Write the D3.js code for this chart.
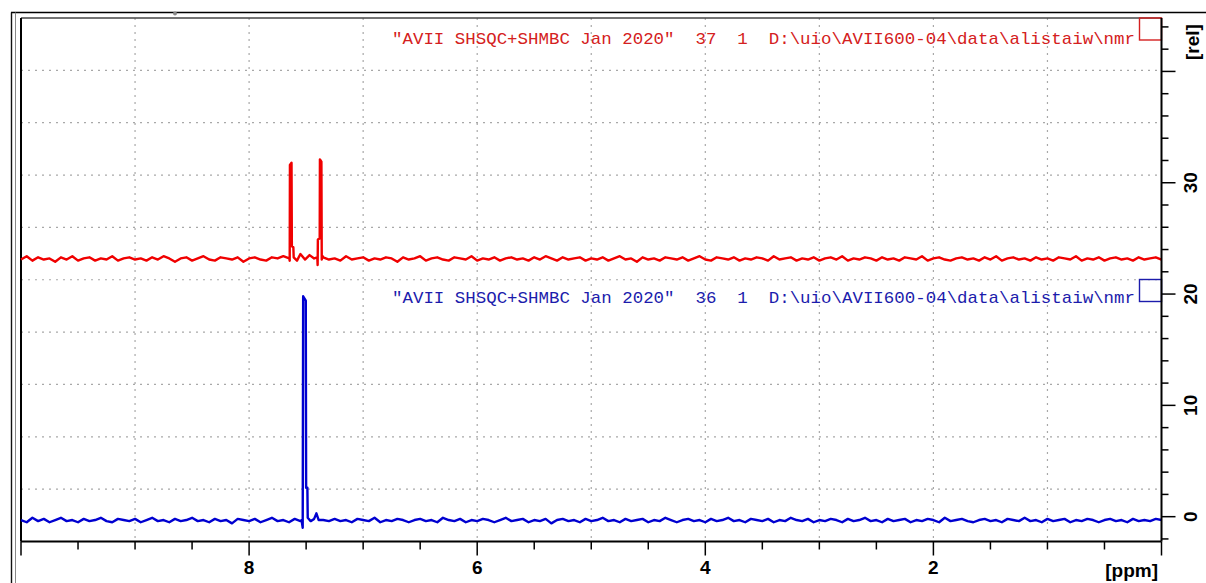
<!DOCTYPE html>
<html>
<head>
<meta charset="utf-8">
<script src="https://cdn.jsdelivr.net/npm/d3@7"></script>
<style>
  body { margin: 0; background: #fff; }
  svg { display: block; }
  .legende { white-space: pre; }
</style>
</head>
<body>
<div id="spectre"></div>
<script>
//------Chart data
const ppmStart = 10;
const ppmStep = 0.05;

// baseline intensities, one every 0.05 ppm from 10 to 0
const redBaseline = [
  23.1, 23.4, 23.0, 23.3, 23.1, 23.2, 22.9, 23.3, 23.1, 23.4,
  23.0, 23.2, 23.3, 23.0, 23.2, 23.1, 23.4, 23.0, 23.2, 23.3,
  23.1, 23.2, 23.0, 23.3, 23.1, 23.4, 23.2, 22.9, 23.2, 23.3,
  23.0, 23.2, 23.4, 23.1, 23.0, 23.3, 23.2, 23.1, 23.3, 22.9,
  23.2, 23.3, 23.1, 23.0, 23.3, 23.2, 23.4, 23.0, 23.2, 23.1,
  23.3, 23.0, 23.2, 23.3, 23.1, 23.2, 23.0, 23.4, 23.1, 23.2,
  23.3, 23.0, 23.2, 23.1, 23.3, 23.2, 22.9, 23.3, 23.1, 23.2,
  23.4, 23.0, 23.2, 23.3, 23.1, 23.0, 23.3, 23.2, 23.1, 23.4,
  23.0, 23.2, 23.1, 23.3, 23.0, 23.2, 23.3, 23.1, 23.2, 23.0,
  23.3, 23.1, 23.4, 23.2, 23.0, 23.3, 23.1, 23.2, 23.3, 23.0,
  23.2, 23.1, 23.3, 23.0, 23.2, 23.4, 23.1, 23.2, 22.9, 23.3,
  23.1, 23.2, 23.0, 23.3, 23.2, 23.1, 23.3, 23.0, 23.2, 23.4,
  23.1, 23.0, 23.3, 23.2, 23.1, 23.3, 23.0, 23.2, 23.1, 23.3,
  23.2, 23.0, 23.4, 23.1, 23.2, 23.3, 23.0, 23.2, 23.1, 23.3,
  23.0, 23.2, 23.3, 23.1, 23.4, 23.0, 23.2, 23.1, 23.3, 23.2,
  23.0, 23.3, 23.1, 23.2, 23.0, 23.3, 23.2, 23.1, 23.4, 23.0,
  23.2, 23.3, 23.1, 23.0, 23.2, 23.3, 23.1, 23.2, 23.0, 23.3,
  23.1, 23.4, 23.0, 23.2, 23.3, 23.1, 23.2, 23.0, 23.3, 23.1,
  23.2, 23.0, 23.3, 23.2, 23.1, 23.4, 23.0, 23.2, 23.1, 23.3,
  23.0, 23.2, 23.3, 23.1, 23.2, 23.0, 23.3, 23.1, 23.2, 23.3,
  23.1
];
const blueBaseline = [
  -0.3, -0.5, -0.1, -0.4, -0.2, -0.5, -0.3, -0.1, -0.4, -0.3,
  -0.5, -0.2, -0.4, -0.3, -0.1, -0.4, -0.5, -0.2, -0.3, -0.4,
  -0.2, -0.5, -0.3, -0.1, -0.4, -0.3, -0.5, -0.2, -0.4, -0.3,
  -0.1, -0.4, -0.3, -0.5, -0.2, -0.4, -0.3, -0.6, -0.2, -0.3,
  -0.4, -0.2, -0.5, -0.3, -0.1, -0.4, -0.3, -0.5, -0.2, -0.4,
  -0.3, -0.1, -0.5, -0.3, -0.4, -0.2, -0.4, -0.3, -0.5, -0.2,
  -0.3, -0.4, -0.1, -0.5, -0.3, -0.4, -0.2, -0.3, -0.5, -0.3,
  -0.2, -0.4, -0.3, -0.5, -0.1, -0.3, -0.4, -0.2, -0.5, -0.3,
  -0.4, -0.2, -0.3, -0.5, -0.3, -0.1, -0.4, -0.3, -0.2, -0.5,
  -0.3, -0.4, -0.2, -0.6, -0.3, -0.2, -0.4, -0.3, -0.5, -0.2,
  -0.4, -0.3, -0.1, -0.4, -0.3, -0.5, -0.2, -0.4, -0.3, -0.2,
  -0.5, -0.3, -0.4, -0.1, -0.3, -0.5, -0.3, -0.2, -0.4, -0.3,
  -0.5, -0.2, -0.4, -0.3, -0.1, -0.4, -0.3, -0.5, -0.2, -0.3,
  -0.4, -0.2, -0.5, -0.3, -0.4, -0.1, -0.3, -0.4, -0.2, -0.5,
  -0.3, -0.4, -0.2, -0.3, -0.5, -0.2, -0.4, -0.3, -0.1, -0.4,
  -0.3, -0.5, -0.2, -0.4, -0.3, -0.2, -0.5, -0.3, -0.4, -0.2,
  -0.3, -0.5, -0.1, -0.4, -0.3, -0.2, -0.4, -0.5, -0.3, -0.2,
  -0.4, -0.3, -0.5, -0.2, -0.3, -0.4, -0.1, -0.4, -0.3, -0.5,
  -0.2, -0.4, -0.3, -0.2, -0.5, -0.3, -0.4, -0.2, -0.3, -0.5,
  -0.3, -0.2, -0.4, -0.3, -0.5, -0.2, -0.4, -0.3, -0.4, -0.2,
  -0.3
];

// peaks [ppm, intensity]
const redPeaks = [
  [7.648, 23.2], [7.644, 23.0], [7.642, 31.6], [7.628, 31.8], [7.625, 24.3],
  [7.612, 24.2], [7.609, 23.3], [7.58, 23.0], [7.55, 23.6], [7.51, 23.1],
  [7.47, 23.5], [7.43, 23.2], [7.402, 23.3], [7.399, 22.6], [7.397, 24.9],
  [7.381, 25.0], [7.379, 32.1], [7.366, 31.9], [7.363, 23.1], [7.355, 23.4]
];
const bluePeaks = [
  [7.540, -0.3], [7.530, -1.0], [7.526, 19.8], [7.503, 19.4], [7.500, 2.6],
  [7.489, 2.6], [7.486, -0.1], [7.46, -0.4], [7.43, -0.2], [7.41, 0.3], [7.39, -0.3]
];

const redLabel = '"AVII SHSQC+SHMBC Jan 2020"  37  1  D:\\uio\\AVII600-04\\data\\alistaiw\\nmr';
const blueLabel = '"AVII SHSQC+SHMBC Jan 2020"  36  1  D:\\uio\\AVII600-04\\data\\alistaiw\\nmr';

const xMajorTicks = [10, 8, 6, 4, 2, 0];
const xMinorTicks = [9.5, 9, 8.5, 7.5, 7, 6.5, 5.5, 5, 4.5, 3.5, 3, 2.5, 1.5, 1, 0.5];
const xTickLabels = [8, 6, 4, 2];
const yMajorTicks = [0, 10, 20, 30, 40];
const yMinorTicks = [-2, 2, 4, 6, 8, 12, 14, 16, 18, 22, 24, 26, 28, 32, 34, 36, 38, 42, 44];
const yTickLabels = [0, 10, 20, 30];

//------Merge baseline and peaks into one trace
function buildTrace(baseline, peaks) {
  const lo = d3.min(peaks, p => p[0]) - 0.005;
  const hi = d3.max(peaks, p => p[0]) + 0.005;
  const pts = baseline
    .map((v, i) => [+(ppmStart - i * ppmStep).toFixed(3), v])
    .filter(p => p[0] < lo || p[0] > hi);
  return pts.concat(peaks).sort((a, b) => b[0] - a[0]);
}
const redTrace = buildTrace(redBaseline, redPeaks);
const blueTrace = buildTrace(blueBaseline, bluePeaks);

//------Svg
const W = 1206, H = 583;
const svg = d3
  .select("#spectre")
  .append("svg")
  .attr("width", W)
  .attr("height", H);

svg.append("rect").attr("width", W).attr("height", H).attr("fill", "#fff");

const plot = { left: 21, right: 1161.5, top: 18, bottom: 541.5 };
const sansBold = "'Liberation Sans', Arial, sans-serif";

//------Scales
const xScale = d3
  .scaleLinear()
  .domain([10, 0])
  .range([plot.left, plot.right]);

const yScale = d3
  .scaleLinear()
  .domain([-2.23, 44.8])
  .range([plot.bottom, plot.top]);

// grid divides the frame in 10 x 10
const gridY = d3
  .scaleLinear()
  .domain([0, 10])
  .range([plot.bottom, plot.top]);

//------Window decoration
svg.append("line")
  .attr("x1", 11).attr("x2", W).attr("y1", 12.5).attr("y2", 12.5)
  .attr("stroke", "#000").attr("stroke-width", 1.6);
svg.append("line")
  .attr("x1", 11.5).attr("x2", 11.5).attr("y1", 12.5).attr("y2", H)
  .attr("stroke", "#111").attr("stroke-width", 1.4);
svg.append("line")
  .attr("x1", 15.5).attr("x2", 15.5).attr("y1", 12.5).attr("y2", H)
  .attr("stroke", "#888").attr("stroke-width", 1);
svg.append("circle")
  .attr("cx", 175).attr("cy", 13.5).attr("r", 2)
  .attr("fill", "#888");

//------Grid
const grid = svg.append("g")
  .attr("stroke", "#a8a8a8")
  .attr("stroke-width", 1.2)
  .attr("stroke-dasharray", "2,5");

grid.selectAll(".vgrid")
  .data(d3.range(1, 10))
  .enter()
  .append("line")
  .attr("x1", d => xScale(d)).attr("x2", d => xScale(d))
  .attr("y1", plot.top).attr("y2", plot.bottom);

grid.selectAll(".hgrid")
  .data(d3.range(1, 10))
  .enter()
  .append("line")
  .attr("x1", plot.left).attr("x2", plot.right)
  .attr("y1", d => gridY(d)).attr("y2", d => gridY(d));

//------Frame
svg.append("line")
  .attr("x1", plot.left).attr("x2", plot.right)
  .attr("y1", plot.top).attr("y2", plot.top)
  .attr("stroke", "#444").attr("stroke-width", 1.5);
svg.append("line")
  .attr("x1", plot.left).attr("x2", plot.left)
  .attr("y1", plot.top).attr("y2", plot.bottom)
  .attr("stroke", "#000").attr("stroke-width", 2);

//------Traces
const line = d3.line()
  .x(d => xScale(d[0]))
  .y(d => yScale(d[1]));

svg.append("path")
  .datum(redTrace)
  .attr("d", line)
  .attr("fill", "none")
  .attr("stroke", "#f00000")
  .attr("stroke-width", 2.4)
  .attr("stroke-linejoin", "round");

svg.append("path")
  .datum(blueTrace)
  .attr("d", line)
  .attr("fill", "none")
  .attr("stroke", "#0000d0")
  .attr("stroke-width", 2.4)
  .attr("stroke-linejoin", "round");

//------Legend labels
const labels = [
  { text: redLabel, color: "#d42020", base: 44, box: 18 },
  { text: blueLabel, color: "#1c1cac", base: 303, box: 279.5 }
];
labels.forEach(l => {
  svg.append("text")
    .attr("class", "legende")
    .attr("x", 392)
    .attr("y", l.base)
    .attr("textLength", 743)
    .attr("lengthAdjust", "spacingAndGlyphs")
    .attr("font-family", "'Courier New', 'Liberation Mono', monospace")
    .attr("font-size", 17)
    .attr("fill", l.color)
    .text(l.text);
  svg.append("rect")
    .attr("x", 1139.5)
    .attr("y", l.box)
    .attr("width", 22)
    .attr("height", 22)
    .attr("fill", "none")
    .attr("stroke", l.color)
    .attr("stroke-width", 1.4);
});

//------X axis
const xAxis = svg.append("g")
  .attr("transform", `translate(0,${plot.bottom})`);
xAxis.append("line")
  .attr("x1", plot.left).attr("x2", plot.right)
  .attr("stroke", "#000").attr("stroke-width", 2);
xAxis.selectAll(".xmaj")
  .data(xMajorTicks)
  .enter()
  .append("line")
  .attr("x1", d => xScale(d)).attr("x2", d => xScale(d))
  .attr("y1", 0).attr("y2", 14)
  .attr("stroke", "#000").attr("stroke-width", 1.5);
xAxis.selectAll(".xmin")
  .data(xMinorTicks)
  .enter()
  .append("line")
  .attr("x1", d => xScale(d)).attr("x2", d => xScale(d))
  .attr("y1", 0).attr("y2", 8)
  .attr("stroke", "#000").attr("stroke-width", 1.5);
xAxis.selectAll(".xlab")
  .data(xTickLabels)
  .enter()
  .append("text")
  .attr("x", d => xScale(d))
  .attr("y", 32)
  .attr("text-anchor", "middle")
  .attr("font-family", sansBold)
  .attr("font-weight", "bold")
  .attr("font-size", 19)
  .text(d => d);
xAxis.append("text")
  .attr("x", 1158)
  .attr("y", 35)
  .attr("text-anchor", "end")
  .attr("font-family", sansBold)
  .attr("font-weight", "bold")
  .attr("font-size", 19)
  .text("[ppm]");

//------Y axis (right side)
const yAxis = svg.append("g")
  .attr("transform", `translate(${plot.right},0)`);
yAxis.append("line")
  .attr("y1", plot.top).attr("y2", plot.bottom)
  .attr("stroke", "#000").attr("stroke-width", 2);
yAxis.selectAll(".ymaj")
  .data(yMajorTicks)
  .enter()
  .append("line")
  .attr("y1", d => yScale(d)).attr("y2", d => yScale(d))
  .attr("x1", 0).attr("x2", 14)
  .attr("stroke", "#000").attr("stroke-width", 1.5);
yAxis.selectAll(".ymin")
  .data(yMinorTicks)
  .enter()
  .append("line")
  .attr("y1", d => yScale(d)).attr("y2", d => yScale(d))
  .attr("x1", 0).attr("x2", 7)
  .attr("stroke", "#000").attr("stroke-width", 1.5);
yAxis.selectAll(".ylab")
  .data(yTickLabels)
  .enter()
  .append("text")
  .attr("transform", d => `translate(35,${yScale(d)}) rotate(-90)`)
  .attr("text-anchor", "middle")
  .attr("font-family", sansBold)
  .attr("font-weight", "bold")
  .attr("font-size", 19)
  .text(d => d);
yAxis.append("text")
  .attr("transform", `translate(37,42) rotate(-90)`)
  .attr("text-anchor", "middle")
  .attr("font-family", sansBold)
  .attr("font-weight", "bold")
  .attr("font-size", 19)
  .text("[rel]");
</script>
</body>
</html>
